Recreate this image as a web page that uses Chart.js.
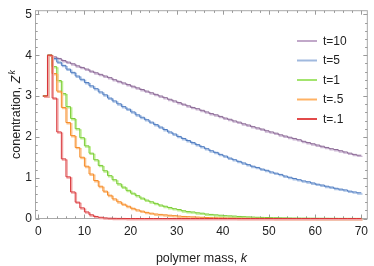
<!DOCTYPE html>
<html><head><meta charset="utf-8">
<script src="https://cdn.jsdelivr.net/npm/chart.js@4"></script>
<style>html,body{margin:0;padding:0;background:#fff}canvas{display:block}</style>
</head><body>
<div style="width:374px;height:266px"><canvas id="c" width="374" height="266"></canvas></div>
<script>
const tLabels = ['t=10','t=5','t=1','t=.5','t=.1'];
const kFirst = 1, kLast = 70;
const xTickLabels = [0,10,20,30,40,50,60,70];
const yTickLabels = [0,1,2,3,4,5];

const z_t10 = [3.00,4.00,
3.96,3.92,3.87,3.83,3.79,3.74,3.70,3.66,3.61,3.57,
3.53,3.49,3.45,3.40,3.36,3.32,3.28,3.24,3.20,3.16,
3.12,3.08,3.04,3.00,2.96,2.92,2.88,2.84,2.80,2.76,
2.72,2.69,2.65,2.61,2.57,2.54,2.50,2.46,2.43,2.39,
2.36,2.32,2.29,2.25,2.22,2.19,2.15,2.12,2.09,2.05,
2.02,1.99,1.96,1.93,1.89,1.86,1.83,1.80,1.77,1.74,
1.71,1.69,1.66,1.63,1.60,1.57,1.55];
const z_t5 = [3.00,4.00,
3.92,3.83,3.75,3.66,3.58,3.49,3.41,3.33,3.25,3.18,
3.10,3.03,2.95,2.88,2.81,2.74,2.68,2.61,2.54,2.48,
2.42,2.36,2.30,2.24,2.18,2.12,2.07,2.01,1.96,1.91,
1.86,1.81,1.76,1.71,1.66,1.62,1.57,1.53,1.48,1.44,
1.40,1.36,1.32,1.28,1.25,1.21,1.18,1.14,1.11,1.08,
1.04,1.01,0.98,0.95,0.92,0.90,0.87,0.84,0.82,0.79,
0.77,0.74,0.72,0.70,0.67,0.65,0.63];
const z_t1 = [3.00,4.00,
3.72,3.38,3.06,2.74,2.45,2.20,1.98,1.78,1.60,1.44,
1.30,1.17,1.05,0.95,0.85,0.77,0.69,0.62,0.56,0.50,
0.45,0.41,0.37,0.33,0.30,0.27,0.24,0.22,0.19,0.17,
0.16,0.14,0.13,0.11,0.10,0.09,0.08,0.07,0.065,0.06,
0.05,0.045,0.04,0.035,0.03,0.027,0.024,0.021,0.019,0.017,
0.015,0.013,0.011,0.010,0.009,0.008,0.007,0.006,0.005,0.005,
0.004,0.004,0.003,0.003,0.003,0.002,0.002];
const z_t05 = [3.00,4.00,
3.55,3.12,2.72,2.35,2.03,1.74,1.50,1.28,1.09,0.93,
0.79,0.67,0.57,0.48,0.41,0.35,0.30,0.25,0.21,0.18,
0.15,0.13,0.11,0.10,0.09,0.08,0.07,0.06,0.05,0.045,
0.04,0.035,0.03,0.025,0.02,0.018,0.015,0.012,0.01,0.008,
0.006,0.005,0.004,0.003,0.003,0.002,0.002,0.001,0,0,
0,0,0,0,0,0,0,0,0,0,
0,0,0,0,0,0,0];
const z_t01 = [3.00,4.00,
2.95,2.12,1.46,1.02,0.65,0.40,0.26,0.16,0.09,0.05,
0.03,0.015,0.008,0.004,0.002,0.001,0,0,0,0,
0,0,0,0,0,0,0,0,0,0,
0,0,0,0,0,0,0,0,0,0,
0,0,0,0,0,0,0,0,0,0,
0,0,0,0,0,0,0,0,0,0,
0,0,0,0,0,0,0];

const seriesValues = [z_t10, z_t5, z_t1, z_t05, z_t01];
const darkColors = ['#8c6b96','#4f7cc0','#7acc36','#f68b26','#d8363a'];
const lightColors = ['#cbb6d3','#aac2e5','#bdee90','#fcc48e','#f2a4a4'];
const legendColors = ['#c1a8c9','#a0b9de','#a3e46e','#ffb264','#e24a4a'];

function steps(vals){
  const pts = vals.map((v,i)=>({x:kFirst+i, y:v}));
  pts.push({x:kLast, y:vals[vals.length-1]});
  return pts;
}

const datasets = [];
seriesValues.forEach((vals,i)=>{
  const pts = steps(vals);
  datasets.push({label:tLabels[i], data:pts, stepped:'before', borderColor:lightColors[i], borderWidth:1.4, pointRadius:0, order:2*(4-i)+1, shadow:true, clip:2});
  datasets.push({label:tLabels[i], data:pts, stepped:'before', borderColor:darkColors[i], borderWidth:1, pointRadius:0, order:2*(4-i), clip:3});
});

const FONT = '"Liberation Sans", Arial, Helvetica, sans-serif';

const decor = {
  id:'decor',
  beforeDatasetDraw(chart, args){
    const ds = chart.data.datasets[args.index];
    if (ds.shadow){ chart.ctx.save(); chart.ctx.translate(1.2,1.2); }
  },
  afterDatasetDraw(chart, args){
    const ds = chart.data.datasets[args.index];
    if (ds.shadow){ chart.ctx.restore(); }
  },
  beforeDatasetsDraw(chart){
    const {ctx, chartArea:a, scales:{x,y}} = chart;
    ctx.save();
    ctx.strokeStyle = '#a9a9a9';
    ctx.lineWidth = 1;
    ctx.strokeRect(a.left, a.top, a.right-a.left, a.bottom-a.top);
    ctx.strokeStyle = '#9a9a9a';
    ctx.beginPath();
    for (let i=0;i<=35;i++){
      const v = i*2;
      const px = Math.round(x.getPixelForValue(v))+0.5;
      const len = (v%10===0)?4:2.2;
      ctx.moveTo(px, a.bottom); ctx.lineTo(px, a.bottom-len);
      ctx.moveTo(px, a.top); ctx.lineTo(px, a.top+len);
    }
    for (let i=0;i<=25;i++){
      const v = i*0.2;
      const py = Math.round(y.getPixelForValue(v))+0.5;
      const len = (i%5===0)?4:2.2;
      ctx.moveTo(a.left, py); ctx.lineTo(a.left+len, py);
      ctx.moveTo(a.right, py); ctx.lineTo(a.right-len, py);
    }
    ctx.stroke();
    ctx.restore();
  },
  afterDraw(chart){
    const {ctx, chartArea:a} = chart;
    ctx.save();
    const rows = [41,60.5,80,99.5,119];
    ctx.font = '12px '+FONT;
    ctx.textBaseline = 'middle';
    ctx.textAlign = 'left';
    tLabels.forEach((lab,i)=>{
      ctx.strokeStyle = legendColors[i];
      ctx.lineWidth = 2;
      ctx.beginPath(); ctx.moveTo(297, rows[i]); ctx.lineTo(317, rows[i]); ctx.stroke();
      ctx.fillStyle = '#222';
      ctx.fillText(lab, 323, rows[i]+0.5);
    });
    const fs = 12.5;
    const normal = fs+'px '+FONT, ital = 'italic '+fs+'px '+FONT, sup = 'italic '+(fs*0.7)+'px '+FONT;
    ctx.fillStyle = '#222';
    ctx.textBaseline = 'alphabetic';
    ctx.font = normal; const w1 = ctx.measureText('polymer mass, ').width;
    ctx.font = ital; const w2 = ctx.measureText('k').width;
    let sx = (a.left+a.right)/2 - (w1+w2)/2;
    ctx.font = normal; ctx.fillText('polymer mass, ', sx, 262);
    ctx.font = ital; ctx.fillText('k', sx+w1, 262);
    ctx.save();
    ctx.translate(20, (a.top+a.bottom)/2);
    ctx.rotate(-Math.PI/2);
    ctx.font = normal; const u1 = ctx.measureText('conentration, ').width;
    ctx.font = ital; const u2 = ctx.measureText('Z').width;
    ctx.font = sup; const u3 = ctx.measureText('k').width;
    let tx = -(u1+u2+u3+1)/2;
    ctx.font = normal; ctx.fillText('conentration, ', tx, 0);
    ctx.font = ital; ctx.fillText('Z', tx+u1, 0);
    ctx.font = sup; ctx.fillText('k', tx+u1+u2+1, -5);
    ctx.restore();
    ctx.restore();
  }
};

new Chart(document.getElementById('c'), {
  type:'line',
  data:{datasets},
  options:{
    responsive:false, animation:false, devicePixelRatio:1,
    layout:{padding:{top:9.5, right:0.5, left:0, bottom:0}},
    plugins:{legend:{display:false}, tooltip:{enabled:false}},
    elements:{point:{radius:0}, line:{tension:0}},
    scales:{
      x:{type:'linear', min:-0.6, max:71.3,
        grid:{display:false, drawTicks:false}, border:{display:false},
        afterBuildTicks:s=>{ s.ticks = xTickLabels.map(v=>({value:v})); },
        afterFit:s=>{ s.height = 47.5; },
        ticks:{padding:6, color:'#222', font:{family:FONT, size:12}, maxRotation:0, autoSkip:false}},
      y:{type:'linear', min:0, max:5.09,
        grid:{display:false, drawTicks:false}, border:{display:false},
        afterBuildTicks:s=>{ s.ticks = yTickLabels.map(v=>({value:v})); },
        afterFit:s=>{ s.width = 35.5; },
        ticks:{padding:3.5, color:'#222', font:{family:FONT, size:12}, autoSkip:false}}
    }
  },
  plugins:[decor]
});
</script>
</body></html>
